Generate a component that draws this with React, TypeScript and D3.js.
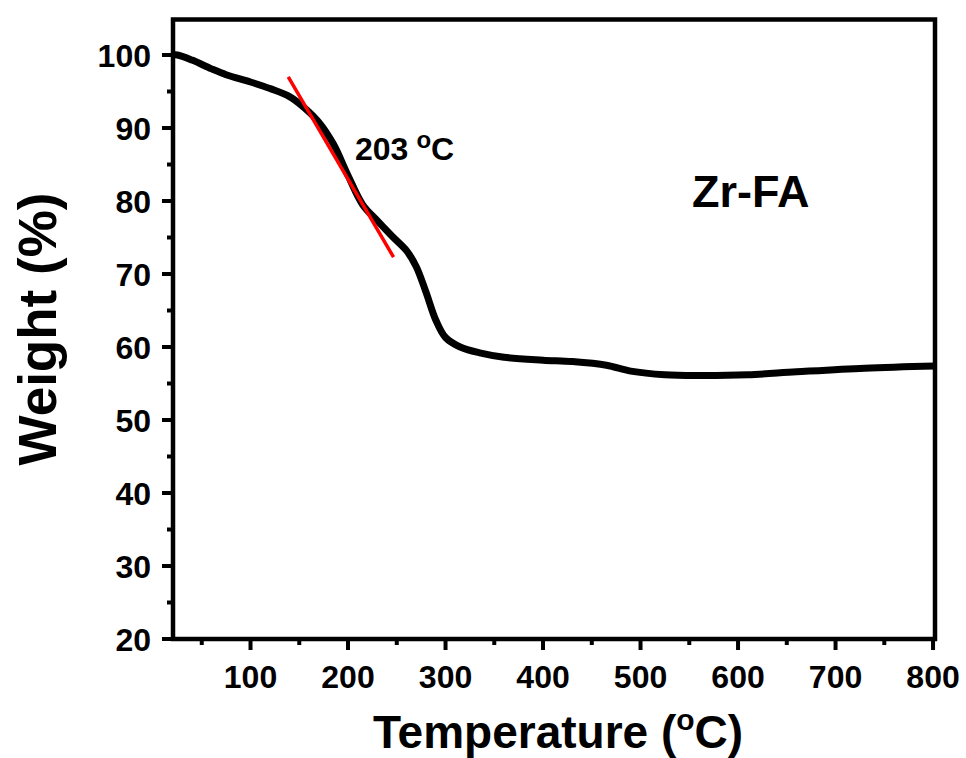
import React from 'react';
import * as d3 from 'd3';

const temps = [20, 25, 40, 60, 75, 100, 120, 140, 155, 170, 185, 200, 215, 230, 245, 260, 270, 280, 290, 300, 315, 335, 360, 400, 430, 465, 490, 525, 560, 610, 660, 730, 802];
const weights = [100.0, 100.0, 99.3, 98.1, 97.3, 96.3, 95.4, 94.3, 92.8, 90.8, 87.8, 83.5, 79.5, 77.3, 75.2, 73.2, 71.0, 67.5, 63.7, 61.3, 60.0, 59.2, 58.6, 58.2, 58.0, 57.5, 56.7, 56.2, 56.1, 56.2, 56.6, 57.1, 57.4];

// onset tangent line (start / end)
const tangentT = [138.7, 246.7];
const tangentW = [97.0, 72.3];

const xTicks = [100, 200, 300, 400, 500, 600, 700, 800];
const xMinor = [50, 150, 250, 350, 450, 550, 650, 750];
const yTicks = [20, 30, 40, 50, 60, 70, 80, 90, 100];
const yMinor = [25, 35, 45, 55, 65, 75, 85, 95];

const FONT = 'Arial, "Liberation Sans", sans-serif';

export default function App() {
  const width = 966;
  const height = 758;
  const m = { l: 173, r: 935, t: 18.5, b: 639 };

  const x = d3.scaleLinear().domain([20.5, 802]).range([m.l, m.r]);
  const y = d3.scaleLinear().domain([20, 105]).range([m.b, m.t]);

  const line = d3
    .line<number>()
    .x((_, i) => x(temps[i]))
    .y((d) => y(d))
    .curve(d3.curveCatmullRom.alpha(0.5));

  const tangent = d3
    .line<number>()
    .x((_, i) => x(tangentT[i]))
    .y((d) => y(d));

  return (
    <svg
      width={width}
      height={height}
      style={{ position: 'absolute', left: 0, top: 0, background: '#fff' }}
      fontFamily={FONT}
      fontWeight="bold"
    >
      <rect width={width} height={height} fill="#fff" />
      <defs>
        <clipPath id="plot">
          <rect x={m.l} y={m.t} width={m.r - m.l} height={m.b - m.t} />
        </clipPath>
      </defs>

      <path
        d={line(weights) as string}
        fill="none"
        stroke="#000"
        strokeWidth={7}
        strokeLinejoin="round"
        clipPath="url(#plot)"
      />
      <path d={tangent(tangentW) as string} fill="none" stroke="#f00" strokeWidth={3.5} />

      {/* frame */}
      <rect x={m.l} y={m.t + 1} width={m.r - m.l} height={m.b - m.t - 1} fill="none" stroke="#000" strokeWidth={4.5} />

      {/* x ticks */}
      {xTicks.map((t) => (
        <g key={`x${t}`}>
          <line x1={x(t)} x2={x(t)} y1={m.b} y2={m.b + 11} stroke="#000" strokeWidth={4} />
          <text x={x(t)} y={688} fontSize={32} textAnchor="middle">
            {t}
          </text>
        </g>
      ))}
      {xMinor.map((t) => (
        <line key={`xm${t}`} x1={x(t)} x2={x(t)} y1={m.b} y2={m.b + 6} stroke="#000" strokeWidth={4} />
      ))}

      {/* y ticks */}
      {yTicks.map((t) => (
        <g key={`y${t}`}>
          <line x1={m.l} x2={m.l - 11} y1={y(t)} y2={y(t)} stroke="#000" strokeWidth={4} />
          <text x={151} y={y(t) + 11.5} fontSize={32} textAnchor="end">
            {t}
          </text>
        </g>
      ))}
      {yMinor.map((t) => (
        <line key={`ym${t}`} x1={m.l} x2={m.l - 6} y1={y(t)} y2={y(t)} stroke="#000" strokeWidth={4} />
      ))}

      {/* axis titles */}
      <text x={558} y={748} fontSize={46} textAnchor="middle">
        Temperature (
        <tspan fontSize={30} dy={-18}>o</tspan>
        <tspan dy={18}>C)</tspan>
      </text>
      <text transform="translate(56,329) rotate(-90)" fontSize={53} textAnchor="middle">
        Weight (%)
      </text>

      {/* annotations */}
      <text x={355} y={160} fontSize={32}>
        203
        <tspan fontSize={24} dx={8} dy={-12}>o</tspan>
        <tspan dy={12}>C</tspan>
      </text>
      <text x={692} y={207} fontSize={45}>
        Zr-FA
      </text>
    </svg>
  );
}
